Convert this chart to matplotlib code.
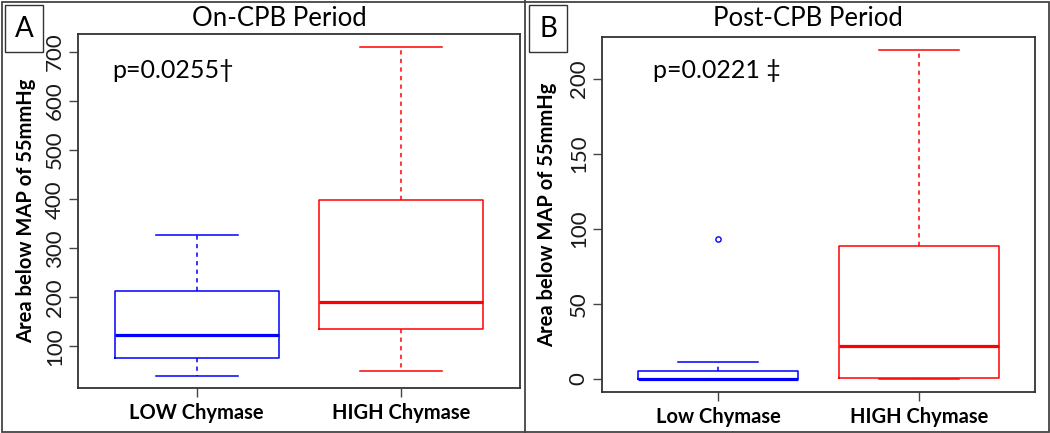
import matplotlib
matplotlib.use('Agg')
import matplotlib.pyplot as plt
from matplotlib.patches import Rectangle
from matplotlib.lines import Line2D

plt.rcParams['font.family'] = ['Lato', 'DejaVu Sans']

# on-CPB period
on_labels = ['LOW Chymase', 'HIGH Chymase']
on_whislo = [40, 49]
on_q1 = [76, 135]
on_med = [123, 190]
on_q3 = [213, 399]
on_whishi = [327, 711]
on_fliers = [[], []]
on_yticks = [100, 200, 300, 400, 500, 600, 700]

# post-CPB period
post_labels = ['Low Chymase', 'HIGH Chymase']
post_whislo = [0, 0]
post_q1 = [0, 0.5]
post_med = [0, 22]
post_q3 = [5.5, 88.7]
post_whishi = [11, 219]
post_fliers = [[93], []]
post_yticks = [0, 50, 100, 150, 200]

colors = ['#0000ff', '#ff0000']


def make_stats(labels, lo, q1, med, q3, hi, fl):
    out = []
    for i in range(len(labels)):
        out.append({'label': labels[i], 'whislo': lo[i], 'q1': q1[i], 'med': med[i],
                    'q3': q3[i], 'whishi': hi[i], 'fliers': fl[i]})
    return out


def draw_panel(ax, stats, yticks, ylim):
    for i, s in enumerate(stats):
        c = colors[i]
        ax.bxp([s], positions=[i + 1], widths=0.8, showfliers=True,
               boxprops=dict(color=c, lw=1.1),
               medianprops=dict(color=c, lw=2.3),
               whiskerprops=dict(color=c, lw=1.1, linestyle=(0, (2.8, 2.8))),
               capprops=dict(color=c, lw=1.1),
               capwidths=0.4,
               flierprops=dict(marker='o', markerfacecolor='none',
                               markeredgecolor=c, markersize=3.8, mew=1.0))
    ax.set_xlim(0.42, 2.58)
    ax.set_ylim(*ylim)
    ax.set_yticks(yticks)
    ax.set_yticklabels([str(t) for t in yticks], rotation=90, va='center')
    ax.set_xticks([1, 2])
    ax.set_xticklabels([s['label'] for s in stats], fontweight='bold', fontsize=14.5)
    ax.tick_params(axis='y', labelsize=16, length=6.5, width=1.0, pad=3,
                   color='#444444', labelcolor='#1a1a1a')
    ax.tick_params(axis='x', length=6.5, width=1.0, pad=4, color='#444444')
    for sp in ax.spines.values():
        sp.set_linewidth(1.3)
        sp.set_color('#333333')
    ax.set_ylabel('Area below MAP of 55mmHg', fontweight='bold', fontsize=14.5)


fig = plt.figure(figsize=(10.5, 4.33), dpi=100)
W, H = 1050.0, 433.0

axA = fig.add_axes([78 / W, 1 - 388 / H, 442 / W, 354 / H])
draw_panel(axA, make_stats(on_labels, on_whislo, on_q1, on_med, on_q3, on_whishi, on_fliers),
           on_yticks, (15.3, 736.7))
axA.yaxis.set_label_coords(-0.095, 0.5)

axB = fig.add_axes([602 / W, 1 - 392 / H, 433 / W, 355 / H])
draw_panel(axB, make_stats(post_labels, post_whislo, post_q1, post_med, post_q3, post_whishi, post_fliers),
           post_yticks, (-8.76, 227.8))
axB.yaxis.set_label_coords(-0.104, 0.5)

# titles and p-values
fig.text(279 / W, 1 - 19 / H, 'On-CPB Period', ha='center', va='center', fontsize=18.5)
fig.text(808 / W, 1 - 19 / H, 'Post-CPB Period', ha='center', va='center', fontsize=18.5)
fig.text(112 / W, 1 - 71 / H, 'p=0.0255†', ha='left', va='center', fontsize=18)
fig.text(128 / W + 0.5, 1 - 71 / H, 'p=0.0221 ‡', ha='left', va='center', fontsize=18)

# panel letters
for x0, lab in [(5, 'A'), (529, 'B')]:
    fig.patches.append(Rectangle((x0 / W, 1 - 52 / H), 38 / W, 47 / H, transform=fig.transFigure,
                                 fill=False, edgecolor='#333333', lw=1.0))
    fig.text((x0 + 19) / W, 1 - 29 / H, lab, ha='center', va='center', fontsize=20)

# outer frame and divider
fig.patches.append(Rectangle((1.5 / W, 1.5 / H), 1 - 3 / W, 1 - 3 / H, transform=fig.transFigure,
                             fill=False, edgecolor='#444444', lw=1.3))
fig.lines.append(Line2D([525 / W, 525 / W], [0, 1], transform=fig.transFigure,
                        color='#444444', lw=1.3))

fig.savefig('out.png', dpi=100)
